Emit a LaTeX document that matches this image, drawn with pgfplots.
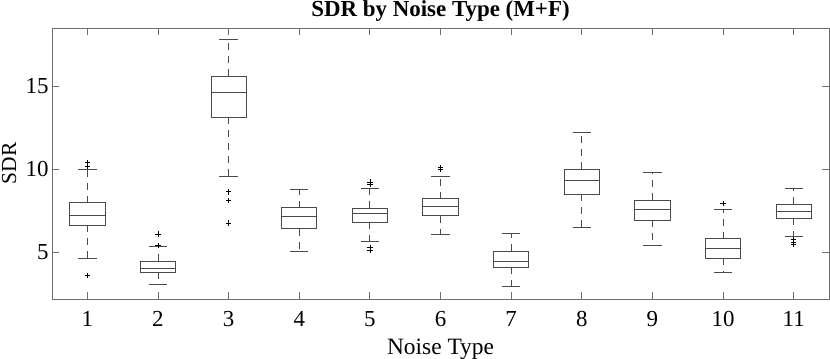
\documentclass[border=0pt]{standalone}
\usepackage{pgfplots}
\pgfplotsset{compat=1.18}
\usepgfplotslibrary{statistics}
\usepackage{fontspec}
\setmainfont{Liberation Serif}
\definecolor{boxc}{HTML}{4A4A4A}
\definecolor{axc}{HTML}{707070}

\begin{document}
\begin{tikzpicture}
\begin{axis}[
  at={(0,0)}, anchor=south west,
  scale only axis, width=777bp, height=271bp,
  xmin=0.5, xmax=11.5, ymin=2.2, ymax=18.5,
  xtick={1,2,3,4,5,6,7,8,9,10,11}, ytick={5,10,15},
  tick align=inside, major tick length=7bp,
  axis line style={axc, line width=0.8bp},
  every tick/.style={axc, line width=0.8bp},
  /pgf/number format/assume math mode=true,
  tick label style={font=\fontsize{23}{27}\selectfont},
  xticklabel style={anchor=base, yshift=-27bp},
  xlabel={Noise Type}, ylabel={SDR},
  label style={font=\fontsize{23.5}{27}\selectfont},
  xlabel style={at={(axis description cs:0.5,-0.2066)}, anchor=base},
  ylabel style={font=\fontsize{21.5}{25}\selectfont, at={(axis description cs:-0.0462,0.5)}, anchor=base, rotate=0, inner sep=0pt},
  title={\textbf{SDR by Noise Type (M+F)}},
  every axis title shift=0pt,
  title style={font=\fontsize{23}{27}\selectfont, at={(axis description cs:0.5,1)}, anchor=base, yshift=11bp, inner sep=0pt},
  boxplot/draw direction=y,
  boxplot/box extend=0.5, boxplot/whisker extend=0.26,
  boxplot/draw/lower whisker/.code={%
    \draw[boxc, line width=0.8bp, dash pattern=on 7bp off 6bp]
      (boxplot cs:\pgfplotsboxplotvalue{lower quartile}) --
      (boxplot cs:\pgfplotsboxplotvalue{lower whisker});
    \draw[boxc, line width=0.8bp]
      (boxplot whisker cs:\pgfplotsboxplotvalue{lower whisker},0) --
      (boxplot whisker cs:\pgfplotsboxplotvalue{lower whisker},1);
  },
  boxplot/draw/upper whisker/.code={%
    \draw[boxc, line width=0.8bp, dash pattern=on 7bp off 6bp]
      (boxplot cs:\pgfplotsboxplotvalue{upper quartile}) --
      (boxplot cs:\pgfplotsboxplotvalue{upper whisker});
    \draw[boxc, line width=0.8bp]
      (boxplot whisker cs:\pgfplotsboxplotvalue{upper whisker},0) --
      (boxplot whisker cs:\pgfplotsboxplotvalue{upper whisker},1);
  },
  every axis plot/.append style={boxc, line width=0.8bp, solid, mark=+,
     mark options={black, line width=0.6bp, mark size=2.8bp}},
]
\addplot[boxplot prepared={draw position=1, lower whisker=4.64, lower quartile=6.63, median=7.25, upper quartile=7.99, upper whisker=10.0}]
  table[row sep=\\, y index=0] {10.4\\ 10.2\\ 3.61\\};
\addplot[boxplot prepared={draw position=2, lower whisker=3.07, lower quartile=3.81, median=4.07, upper quartile=4.46, upper whisker=5.38}]
  table[row sep=\\, y index=0] {6.10\\ 5.42\\};
\addplot[boxplot prepared={draw position=3, lower whisker=9.60, lower quartile=13.13, median=14.6, upper quartile=15.6, upper whisker=17.79}]
  table[row sep=\\, y index=0] {8.65\\ 8.13\\ 6.78\\};
\addplot[boxplot prepared={draw position=4, lower whisker=5.06, lower quartile=6.42, median=7.17, upper quartile=7.69, upper whisker=8.77}]
  coordinates {};
\addplot[boxplot prepared={draw position=5, lower whisker=5.68, lower quartile=6.81, median=7.33, upper quartile=7.65, upper whisker=8.86}]
  table[row sep=\\, y index=0] {9.22\\ 9.12\\ 5.30\\ 5.14\\};
\addplot[boxplot prepared={draw position=6, lower whisker=6.06, lower quartile=7.20, median=7.75, upper quartile=8.23, upper whisker=9.60}]
  table[row sep=\\, y index=0] {10.1\\ 9.98\\};
\addplot[boxplot prepared={draw position=7, lower whisker=2.95, lower quartile=4.10, median=4.49, upper quartile=5.06, upper whisker=6.14}]
  coordinates {};
\addplot[boxplot prepared={draw position=8, lower whisker=6.48, lower quartile=8.49, median=9.34, upper quartile=10.02, upper whisker=12.2}]
  coordinates {};
\addplot[boxplot prepared={draw position=9, lower whisker=5.42, lower quartile=6.95, median=7.59, upper quartile=8.13, upper whisker=9.84}]
  coordinates {};
\addplot[boxplot prepared={draw position=10, lower whisker=3.80, lower quartile=4.64, median=5.24, upper quartile=5.82, upper whisker=7.57}]
  table[row sep=\\, y index=0] {7.95\\};
\addplot[boxplot prepared={draw position=11, lower whisker=5.94, lower quartile=7.05, median=7.45, upper quartile=7.89, upper whisker=8.86}]
  table[row sep=\\, y index=0] {5.78\\ 5.64\\ 5.52\\};
\end{axis}
\pgfresetboundingbox
\path[use as bounding box] (-52bp,-60bp) rectangle (778bp,299bp);
\end{tikzpicture}
\end{document}
